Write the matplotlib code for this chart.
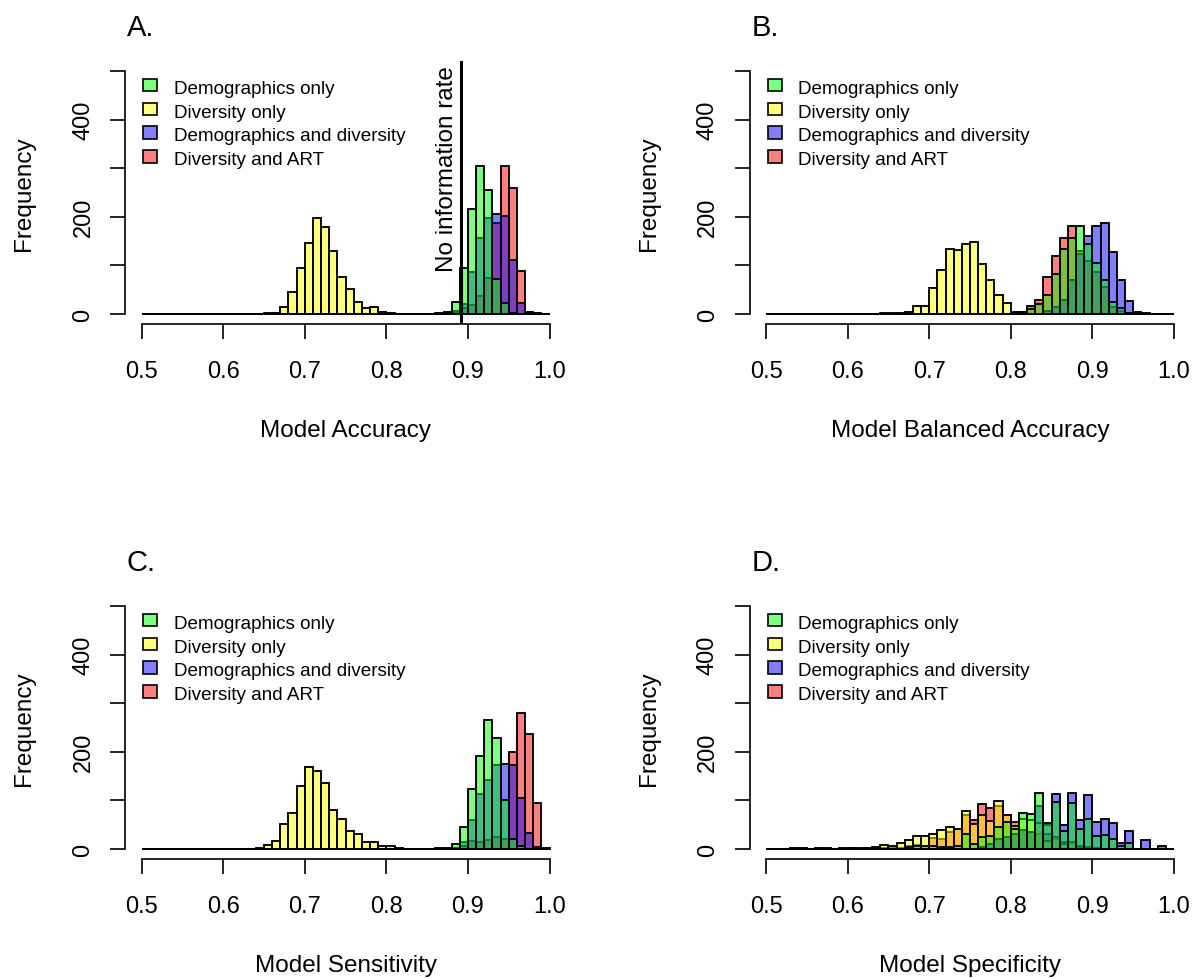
import matplotlib
matplotlib.use("Agg")
import numpy as np
import matplotlib.pyplot as plt
from matplotlib.patches import Rectangle
from matplotlib.transforms import blended_transform_factory

plt.rcParams['font.family'] = ['Liberation Sans', 'DejaVu Sans']

# histogram bins: 0.50 .. 1.00 in steps of 0.01
BIN_EDGES = np.round(np.arange(0.5, 1.0001, 0.01), 2)

series_names = ["Demographics only", "Diversity only",
                "Demographics and diversity", "Diversity and ART"]
series_colors = [(0, 1, 0, 0.5), (1, 1, 0, 0.5), (0, 0, 1, 0.5), (1, 0, 0, 0.5)]
draw_order = [3, 1, 2, 0]  # ART first, demographics last (on top)

panel_letters = ["A.", "B.", "C.", "D."]
x_labels = ["Model Accuracy", "Model Balanced Accuracy",
            "Model Sensitivity", "Model Specificity"]
x_ticks = [0.5, 0.6, 0.7, 0.8, 0.9, 1.0]
x_tick_labels = ["0.5", "0.6", "0.7", "0.8", "0.9", "1.0"]
y_ticks = [0, 100, 200, 300, 400, 500]
y_tick_labels = ["0", "", "200", "", "400", ""]
no_info_rate = 0.892

# counts per bin as (lower edge of first bin, counts)
# A. accuracy
acc_demo = (0.87, [3, 25, 95, 217, 305, 256, 72, 22, 2])
acc_div = (0.65, [1, 3, 14, 45, 95, 146, 197, 178, 129, 77, 51, 25, 12, 14, 5, 2])
acc_demo_div = (0.88, [5, 21, 86, 156, 197, 206, 201, 111, 22])
acc_div_art = (0.86, [1, 5, 7, 12, 19, 36, 75, 187, 304, 259, 88, 5, 1])
# B. balanced accuracy
bal_demo = (0.80, [3, 5, 10, 20, 40, 82, 133, 156, 182, 143, 104, 69, 24, 12, 2])
bal_div = (0.64, [1, 2, 1, 5, 17, 17, 53, 91, 134, 132, 144, 149, 103, 69, 40, 23, 5, 3])
bal_demo_div = (0.84, [7, 14, 29, 69, 123, 161, 182, 187, 128, 69, 26, 5, 1])
bal_div_art = (0.81, [5, 16, 29, 77, 120, 156, 181, 130, 110, 86, 56, 14, 7])
# C. sensitivity
sen_demo = (0.86, [2, 3, 10, 45, 123, 192, 265, 228, 100, 21, 7])
sen_div = (0.64, [1, 8, 16, 52, 75, 129, 168, 160, 136, 80, 62, 38, 30, 15, 15, 7, 7, 1])
sen_demo_div = (0.88, [3, 14, 60, 113, 142, 173, 174, 173, 104, 32, 5])
sen_div_art = (0.88, [2, 7, 17, 15, 19, 25, 21, 200, 280, 237, 95, 2])
# D. specificity
spe_demo = (0.67, [5, 7, 7, 6, 5, 5, 7, 31, 10, 24, 27, 45, 55, 41, 74, 71, 115, 53,
                   97, 38, 95, 41, 62, 26, 29, 21, 7, 12])
spe_div = (0.53, [1, 1, 0, 1, 1, 0, 2, 1, 0, 2, 4, 9, 7, 12, 19, 26, 27, 31, 40, 45, 41,
                  78, 51, 69, 58, 98, 70, 48, 62, 60, 53, 17, 25, 10, 15, 5])
spe_demo_div = (0.76, [5, 10, 20, 25, 30, 40, 35, 89, 50, 113, 49, 115, 60, 111, 56, 62,
                       53, 12, 36, 0, 19, 0, 7])
spe_div_art = (0.60, [1, 1, 1, 1, 2, 2, 3, 7, 8, 7, 23, 21, 34, 41, 70, 60, 92, 84, 89, 70,
                      55, 40, 35, 30, 31, 20, 15, 12, 6, 4, 2])

panels = [
    [acc_demo, acc_div, acc_demo_div, acc_div_art],
    [bal_demo, bal_div, bal_demo_div, bal_div_art],
    [sen_demo, sen_div, sen_demo_div, sen_div_art],
    [spe_demo, spe_div, spe_demo_div, spe_div_art],
]

# layout in pixels
W, H = 1194, 979
AX_W, AX_H = 440.6, 262.4
ax_origins = [(125.3, 62.3), (749.7, 62.3), (125.3, 597.3), (749.7, 597.3)]


def full_counts(spec):
    start, counts = spec
    arr = np.zeros(len(BIN_EDGES) - 1)
    k0 = int(round((start - 0.5) / 0.01))
    arr[k0:k0 + len(counts)] = counts
    return arr


def fx(px):
    return px / AX_W


def fy(py):
    # py measured downwards from top of axes
    return 1 - py / AX_H


fig = plt.figure(figsize=(W / 100, H / 100), dpi=100)

for p in range(4):
    left, top = ax_origins[p]
    ax = fig.add_axes([left / W, 1 - (top + AX_H) / H, AX_W / W, AX_H / H])
    ax.set_xlim(0.48, 1.02)
    ax.set_ylim(-20, 520)

    for i in draw_order:
        ax.bar(BIN_EDGES[:-1], full_counts(panels[p][i]), width=0.01, align='edge',
               color=series_colors[i], edgecolor='black', linewidth=1.35)

    for s in ['top', 'right']:
        ax.spines[s].set_visible(False)
    ax.spines['left'].set_bounds(0, 500)
    ax.spines['bottom'].set_bounds(0.5, 1.0)
    for s in ['left', 'bottom']:
        ax.spines[s].set_linewidth(1.2)
    ax.set_xticks(x_ticks)
    ax.set_yticks(y_ticks)
    ax.tick_params(direction='out', length=10.8, width=1.2,
                   labelleft=False, labelbottom=False)

    tx = blended_transform_factory(ax.transData, ax.transAxes)
    ty = blended_transform_factory(ax.transAxes, ax.transData)
    for v, lab in zip(x_ticks, x_tick_labels):
        ax.text(v, fy(370 - 62.3), lab, transform=tx, ha='center',
                va='center_baseline', fontsize=17)
    for v, lab in zip(y_ticks, y_tick_labels):
        ax.text(fx(81 - 125.3), v, lab, transform=ty, ha='center',
                va='center_baseline', rotation=90, rotation_mode='anchor', fontsize=17)

    ax.text(0.5, fy(428.5 - 62.3), x_labels[p], transform=ax.transAxes,
            ha='center', va='center_baseline', fontsize=17.5)
    ax.text(fx(22 - 125.3), 0.5, "Frequency", transform=ax.transAxes, ha='center',
            va='center_baseline', rotation=90, rotation_mode='anchor', fontsize=17.5)
    ax.text(fx(1.7), fy(24.8 - 62.3), panel_letters[p], transform=ax.transAxes,
            ha='left', va='center_baseline', fontsize=21)

    # legend
    for j in range(4):
        yc = 86.2 + 23.7 * j - 62.3
        ax.add_patch(Rectangle((fx(18), fy(yc + 6.25)), fx(14), 12.5 / AX_H,
                               transform=ax.transAxes, facecolor=series_colors[j],
                               edgecolor='black', linewidth=1.2, clip_on=False))
        ax.text(fx(48.2), fy(87.4 + 23.7 * j - 62.3), series_names[j],
                transform=ax.transAxes, ha='left', va='center_baseline', fontsize=13.6)

    if p == 0:
        ax.axvline(no_info_rate, color='black', linewidth=2.2)
        ax.text(0.871, 300, "No information rate", ha='center', va='center_baseline',
                rotation=90, rotation_mode='anchor', fontsize=17.5)

fig.savefig("out.png", dpi=100)
